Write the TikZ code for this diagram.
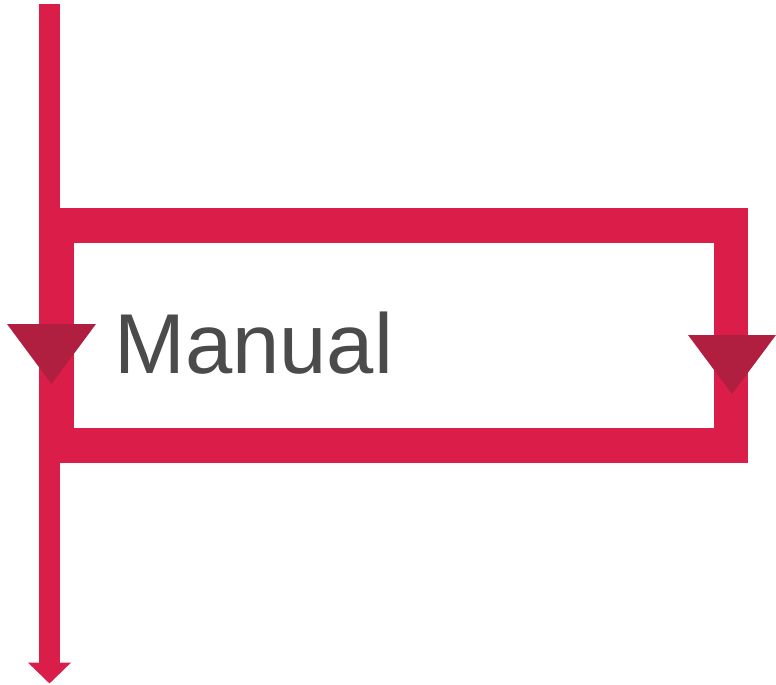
\documentclass[tikz,border=0pt]{standalone}
\usepackage{fontspec}
\setmainfont{Liberation Sans}
\usepackage{tikz}
\usetikzlibrary{arrows.meta,positioning}

\definecolor{flowred}{HTML}{DB1E49}
\definecolor{markred}{HTML}{B11F40}
\definecolor{labelgray}{HTML}{4B4B4B}

\begin{document}
\begin{tikzpicture}[x=1pt, y=-1pt,
mainline/.style={draw=flowred, line width=21pt},
loopbox/.style={draw=flowred, line width=34.5pt},
marker/.style={fill=markred, draw=none},
label/.style={anchor=base west, inner sep=0pt, font=\fontsize{85}{85}\selectfont, text=labelgray}
]
\useasboundingbox (0,0) rectangle (776,685);

% Main flow
\coordinate (top) at (49.5,4);
\coordinate (bottom) at (49.5,683.5);

% Loop frame
\coordinate (loop_nw) at (56.5,225.5);
\coordinate (loop_se) at (731,445.5);
\draw[loopbox] (loop_nw) rectangle (loop_se);

\draw[mainline, -{Triangle[width=42pt,length=21pt]}] (top) -- (bottom);

% Direction markers
\coordinate (mark_left) at (51.5,384);
\coordinate (mark_right) at (732,394);
\fill[marker] (mark_left) -- ++(-44.5,-60) -- ++(89,0) -- cycle;
\fill[marker] (mark_right) -- ++(-44,-59) -- ++(88,0) -- cycle;

% Label
\node[label] (manual) at (114,373.5) {Manual};

\end{tikzpicture}
\end{document}
